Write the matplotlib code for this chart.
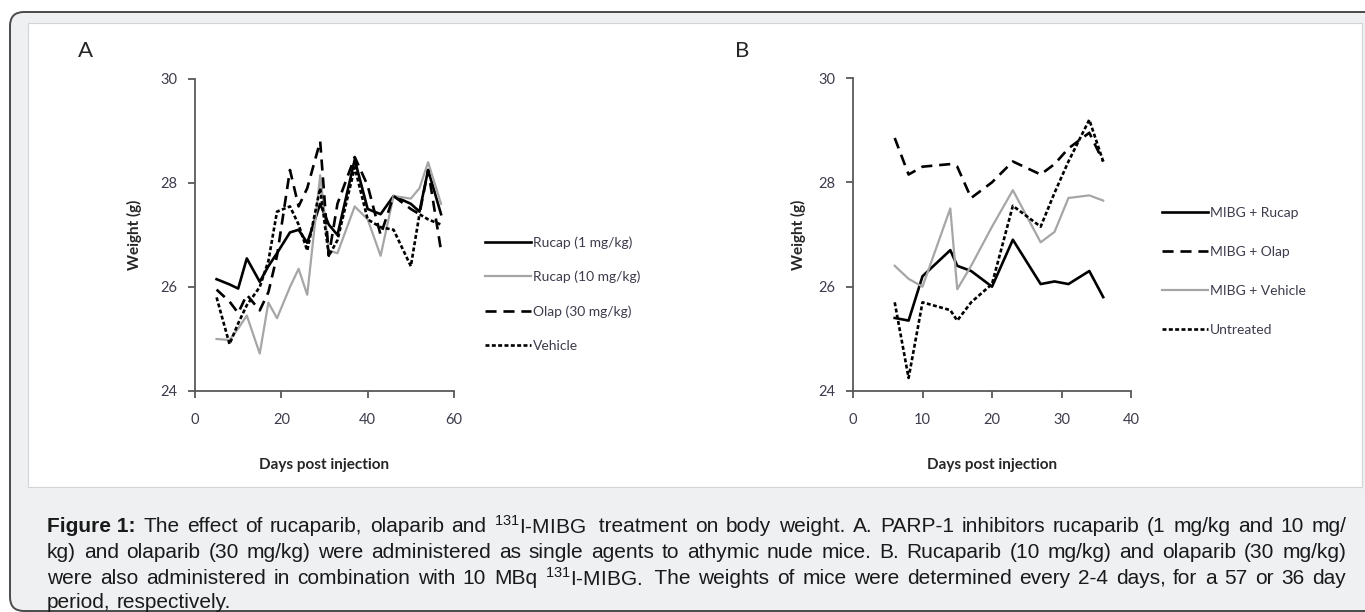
"""Body weight curves for rucaparib / olaparib / 131I-MIBG treated mice."""

import matplotlib
matplotlib.use("Agg")
import matplotlib.pyplot as plt
from matplotlib.lines import Line2D
from matplotlib.patches import FancyBboxPatch, Rectangle

W, H = 1365, 612

# panel A: single agents
days_a = [5, 8, 10, 12, 15, 17, 19, 22, 24, 26, 29, 31, 33, 37, 40, 43, 46, 50, 52, 54, 57]
rucap1_a = [26.15, 26.05, 25.97, 26.55, 26.1, 26.4, 26.65, 27.05, 27.1, 26.85, 27.6,
            27.2, 27.0, 28.45, 27.5, 27.4, 27.75, 27.6, 27.45, 28.25, 27.4]
rucap10_a = [25.0, 24.98, 25.2, 25.45, 24.72, 25.7, 25.4, 26.0, 26.35, 25.85, 28.15,
             26.7, 26.65, 27.55, 27.3, 26.6, 27.75, 27.7, 27.9, 28.4, 27.6]
olap_a = [25.95, 25.72, 25.5, 25.85, 25.55, 25.9, 26.6, 28.25, 27.55, 27.9, 28.8,
          26.6, 27.6, 28.5, 27.95, 27.0, 27.75, 27.5, 27.4, 28.25, 26.7]
vehicle_a = [25.8, 24.9, 25.3, 25.65, 26.0, 26.5, 27.45, 27.55, 27.2, 26.7, 27.9,
             26.6, 26.9, 28.3, 27.3, 27.15, 27.1, 26.4, 27.4, 27.3, 27.2]
labels_a = ["Rucap (1 mg/kg)", "Rucap (10 mg/kg)", "Olap (30 mg/kg)", "Vehicle"]

# panel B: combinations with 131I-MIBG
days_b = [6, 8, 10, 14, 15, 17, 20, 23, 27, 29, 31, 34, 36]
rucap_b = [25.4, 25.35, 26.2, 26.7, 26.4, 26.3, 26.0, 26.9, 26.05, 26.1, 26.05, 26.3, 25.8]
olap_b = [28.85, 28.15, 28.3, 28.35, 28.3, 27.7, 28.0, 28.4, 28.15, 28.35, 28.65, 28.95, 28.4]
vehicle_b = [26.4, 26.15, 26.0, 27.5, 25.95, 26.4, 27.15, 27.85, 26.85, 27.05, 27.7, 27.75, 27.65]
untreated_b = [25.7, 24.25, 25.7, 25.55, 25.35, 25.7, 26.05, 27.55, 27.15, 27.8, 28.4, 29.2, 28.4]
labels_b = ["MIBG + Rucap", "MIBG + Olap", "MIBG + Vehicle", "Untreated"]

# caption, one list of words per printed line
caption_lines = [
    ["Figure 1:", "The", "effect", "of", "rucaparib,", "olaparib", "and",
     r"$^{131}$I-MIBG", " treatment", "on", "body", "weight.", "A.", "PARP-1", "inhibitors",
     "rucaparib", "(1", "mg/kg", "and", "10", "mg/"],
    ["kg)", "and", "olaparib", "(30", "mg/kg)", "were", "administered", "as", "single", "agents",
     "to", "athymic", "nude", "mice.", "B.", "Rucaparib", "(10", "mg/kg)", "and", "olaparib",
     "(30", "mg/kg)"],
    ["were", "also", "administered", "in", "combination", "with", "10", "MBq",
     r"$^{131}$I-MIBG.", " The", "weights", "of", "mice", "were", "determined", "every", "2-4",
     "days,", "for", "a", "57", "or", "36", "day"],
    ["period,", "respectively."],
]

chart_font = ["Lato", "DejaVu Sans"]
plt.rcParams["mathtext.fontset"] = "custom"
plt.rcParams["mathtext.rm"] = "Liberation Sans"

SOLID = dict(color="black", linewidth=1.9, linestyle="-")
GREY = dict(color="#a6a6a6", linewidth=1.6, linestyle="-")
LONG_DASH = dict(color="black", linewidth=1.9, linestyle=(0, (4.2, 2.6)))
SHORT_DASH = dict(color="black", linewidth=1.9, linestyle=(0, (1.5, 0.9)))


def rect(left, top, right, bottom):
    return [left / W, 1 - bottom / H, (right - left) / W, (bottom - top) / H]


fig = plt.figure(figsize=(W / 100, H / 100), dpi=100)
fig.patch.set_facecolor("white")

# page background: grey caption box with the white figure panel inside
bg = fig.add_axes([0, 0, 1, 1], zorder=-5)
bg.set_xlim(0, W)
bg.set_ylim(H, 0)
bg.axis("off")
bg.add_patch(FancyBboxPatch((10, 12), 1420, 599, boxstyle="round,pad=0,rounding_size=14",
                            facecolor="#eff0f2", edgecolor="#4a4a4a", linewidth=1.4))
bg.add_patch(Rectangle((28, 23), 1334, 464, facecolor="white", edgecolor="#d4d4d4", linewidth=0.8))


def draw_panel(box, days, series, styles, labels, xmax, xticks, ylabel_x, letter, letter_x,
               legend_xy, spacing):
    ax = fig.add_axes(rect(*box))
    for values, style in zip(series, styles):
        ax.plot(days, values, clip_on=False, **style)
    ax.set_xlim(0, xmax)
    ax.set_ylim(24, 30)
    ax.set_xticks(xticks)
    ax.set_yticks([24, 26, 28, 30])
    for side in ("top", "right"):
        ax.spines[side].set_visible(False)
    for side in ("left", "bottom"):
        ax.spines[side].set_color("#595959")
        ax.spines[side].set_linewidth(1.3)
    ax.tick_params(direction="out", length=5, width=1.3, color="#595959",
                   labelcolor="#3c3c4c", labelsize=10.5, pad=8)
    ax.tick_params(axis="x", pad=11)
    for lab in ax.get_xticklabels() + ax.get_yticklabels():
        lab.set_family(chart_font)
    ax.set_xlabel("Days post injection", family=chart_font, fontsize=11, fontweight="bold", color="#262626")
    ax.set_ylabel("Weight (g)", family=chart_font, fontsize=11, fontweight="bold", color="#262626")
    width = box[2] - box[0]
    height = box[3] - box[1]
    ax.xaxis.set_label_coords(0.5, -(458 - box[3]) / height)
    ax.yaxis.set_label_coords((ylabel_x - box[0]) / width, 0.5)
    fig.text(letter_x / W, 1 - 51 / H, letter, family=chart_font,
             fontsize=16, color="#262626", ha="center", va="center")
    legend_handles = [Line2D([], [], **s) for s in styles]
    leg = fig.legend(legend_handles, labels, loc="upper left",
                     bbox_to_anchor=(legend_xy[0] / W, 1 - legend_xy[1] / H),
                     frameon=False, handlelength=3.3, handletextpad=0.15,
                     labelspacing=spacing, borderaxespad=0, borderpad=0,
                     prop=dict(family=chart_font, size=10))
    for t in leg.get_texts():
        t.set_color("#3c3c4c")
    return ax


draw_panel((195, 79, 454, 391), days_a, [rucap1_a, rucap10_a, olap_a, vehicle_a],
           [SOLID, GREY, LONG_DASH, SHORT_DASH], labels_a, 60, [0, 20, 40, 60],
           142, "A", 86, (485, 236), 1.6)
draw_panel((853, 78, 1131, 391), days_b, [rucap_b, olap_b, vehicle_b, untreated_b],
           [SOLID, LONG_DASH, GREY, SHORT_DASH], labels_b, 40, [0, 10, 20, 30, 40],
           806, "B", 742, (1162, 207), 1.95)

# justified caption
renderer = fig.canvas.get_renderer()
x0, x1 = 47, 1346
line_y = [526, 552, 578, 602]
for i, (words, y) in enumerate(zip(caption_lines, line_y)):
    items = [fig.text(0, 1 - y / H, w, family="Liberation Sans", fontsize=15,
                      fontweight="bold" if w.startswith("Figure") else "normal",
                      color="#1a1a1a", va="center", ha="left") for w in words]
    widths = [t.get_window_extent(renderer).width for t in items]
    if i < len(caption_lines) - 1:
        gap = (x1 - x0 - sum(widths)) / (len(items) - 1)
    else:
        gap = 5.8
    x = x0
    for t, w in zip(items, widths):
        t.set_x(x / W)
        x += w + gap

fig.savefig("out.png", dpi=100)
